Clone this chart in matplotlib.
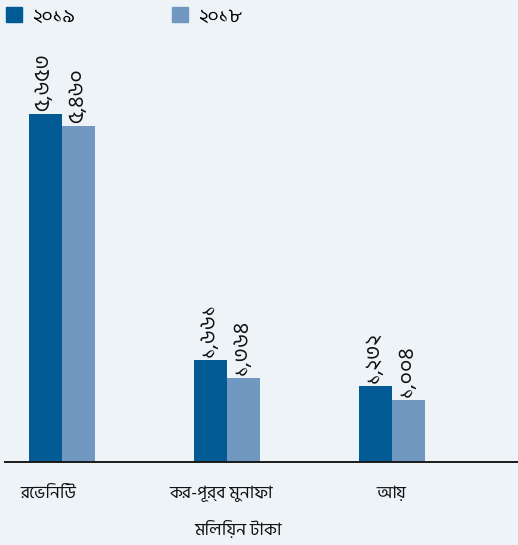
import matplotlib
matplotlib.use("Agg")
import matplotlib.pyplot as plt
from matplotlib import font_manager
from matplotlib.ft2font import FT2Font
from matplotlib.transforms import ScaledTranslation
import numpy as np

# Financial highlights (million Taka)
categories = ["রেভিনিউ", "কর-পূর্ব মুনাফা", "আয়"]
series_names = ["২০১৯", "২০১৮"]
values_2019 = [5653, 1661, 1232]
values_2018 = [5460, 1364, 1004]
axis_title = "মিলিয়ন টাকা"

BN_DIGITS = str.maketrans("0123456789", "০১২৩৪৫৬৭৮৯")


def bn_number(v):
    return f"{v:,}".translate(BN_DIGITS)


def bengali_font():
    """Pick an installed font covering Bengali, preferring a plain regular face."""
    covering = []
    for path in sorted(font_manager.findSystemFonts()):
        try:
            if ord("ক") in FT2Font(path).get_charmap():
                covering.append(path)
        except Exception:
            continue
    for pref in ("HindSiliguri-Regular", "NotoSansBengali", "NotoSerifBengali",
                 "TiroBangla", "AnekBangla", "FreeSans.ttf"):
        for p in covering:
            if pref in p:
                return p
    return covering[0] if covering else None


families = ["DejaVu Sans"]
bn_path = bengali_font()
if bn_path:
    font_manager.fontManager.addfont(bn_path)
    families = [font_manager.FontProperties(fname=bn_path).get_name()] + families
plt.rcParams["font.family"] = families

BG = "#edf3f7"
C2019 = "#025b94"
C2018 = "#7098c0"
TXT = "#111111"

W, H = 518, 545
fig = plt.figure(figsize=(W / 100, H / 100), dpi=100, facecolor=BG)

# plotting area: baseline at y=462 px, left edge at x=5 px
left_px, right_px = 5, 518
base_px, top_px = 462.3, 31.2
ax = fig.add_axes([left_px / W, 1 - base_px / H,
                   (right_px - left_px) / W, (base_px - top_px) / H])
ax.set_facecolor(BG)

x = np.arange(len(categories))
bw = 0.2
ax.bar(x - bw / 2, values_2019, width=bw, color=C2019, linewidth=0)
ax.bar(x + bw / 2, values_2018, width=bw, color=C2018, linewidth=0)

ax.set_xlim(-0.345, 2.76)
ax.set_ylim(0, 7000)

for xs, vals in ((x - bw / 2, values_2019), (x + bw / 2, values_2018)):
    for xi, v in zip(xs, vals):
        ax.annotate(bn_number(v), (xi, v), xytext=(-1, 2.5),
                    textcoords="offset points", rotation=90,
                    ha="center", va="bottom", fontsize=15.5, color=TXT)

for s in ("top", "right", "left"):
    ax.spines[s].set_visible(False)
ax.spines["bottom"].set_color("#1a1a1a")
ax.spines["bottom"].set_linewidth(1.4)
ax.set_yticks([])
ax.set_xticks(x)
ax.set_xticklabels(categories, fontsize=12.5, color=TXT)
ax.tick_params(axis="x", length=0, pad=17)

# nudge the category names slightly left of their group centres
for lbl, dx in zip(ax.get_xticklabels(), (-10, -4, -1)):
    lbl.set_transform(lbl.get_transform()
                      + ScaledTranslation(dx / 72, 0, fig.dpi_scale_trans))

ax.set_xlabel(axis_title, fontsize=12.5, color=TXT, labelpad=10)
ax.xaxis.set_label_coords((238 - left_px) / (right_px - left_px), -0.135)

# legend across the top
handles = [plt.Rectangle((0, 0), 1, 1, color=C2019),
           plt.Rectangle((0, 0), 1, 1, color=C2018)]
fig.legend(handles, series_names, loc="upper left",
           bbox_to_anchor=(-0.014, 1.012), ncol=2, frameon=False,
           fontsize=14, handlelength=0.82, handleheight=0.82,
           handletextpad=0.5, columnspacing=5.0, borderaxespad=0.3)

fig.savefig("out.png", dpi=100, facecolor=BG)
